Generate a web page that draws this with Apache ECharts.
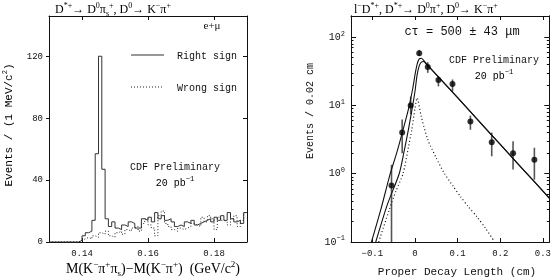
<!DOCTYPE html>
<html><head><meta charset="utf-8">
<script src="https://cdn.jsdelivr.net/npm/echarts@6/dist/echarts.min.js"></script>
<style>html,body{margin:0;padding:0;background:#fff}#c{width:554px;height:278px}</style>
</head><body><div id="c"></div>
<script>
// ---------- Left panel: histogram (1 MeV bins starting at 0.130) ----------
const binLow = 0.130;
const binWidth = 0.001;
const rightSign = [0,0,0,0,0,0,0,0,0,1,4,6,7,14,57,120,47,15,10,13,9,8,11,10,13,12,9,9,15,14,16,13,19,15,17,14,15,13,10,11,10,13,12,14,11,12,13,14,15,13,16,14,17,14,19,15,13,14,12,19];
const wrongSign = [0,0,0,0,0,0,0,0,0,1,2,3,2,4,3,6,5,7,4,3,6,7,5,8,7,9,10,7,12,15,11,9,4,17,20,12,10,8,7,9,8,9,10,12,11,10,16,13,17,15,8,16,14,13,11,15,17,10,14,19];
const leftXTicks = [0.14, 0.16, 0.18];
const leftYTicks = [0, 40, 80, 120];
const legendNames = ['Right sign', 'Wrong sign'];

// ---------- Right panel: proper decay length ----------
const ptX  = [-0.055,-0.03,-0.01,0.01,0.03,0.055,0.088,0.13,0.18,0.23,0.28];
const ptY  = [0.67,4.0,10,58,36.6,23.5,20.6,5.8,2.9,2.0,1.6];
const ptLo = [0.1,2.0,7.4,53,30,19,16,4.4,1.8,1.15,0.82];
const ptHi = [1.35,6.2,13.5,65,43,27,24,7.1,4.0,3.0,2.4];

const fitUpX = [-0.102,-0.08,-0.058,-0.043,-0.028,-0.015,-0.005,0,0.005,0.01,0.015,0.02,0.03,0.05,0.1,0.15,0.2,0.25,0.315];
const fitUpY = [0.1,0.3,1.0,2.0,4.4,9,18,28,40,48,49,46,39,28.3,13,5.9,2.68,1.22,0.44];
const fitLoX = [-0.092,-0.065,-0.037,-0.025,-0.0155,-0.008,0,0.005,0.01,0.015,0.02,0.03,0.04,0.05,0.1,0.15,0.2,0.25,0.315];
const fitLoY = [0.1,0.35,1.0,2.2,4.4,8,16,28,38,43,44,38,33,28.3,13,5.9,2.68,1.22,0.44];
const bkgX = [-0.085,-0.06,-0.045,-0.028,-0.015,-0.0075,0,0.005,0.0145,0.03,0.05,0.0685,0.09,0.107,0.125,0.145,0.165,0.184];
const bkgY = [0.1,0.3,0.55,1.0,2.5,4.4,9,12.9,7.0,3.16,1.7,1.02,0.65,0.46,0.33,0.235,0.16,0.107];
const rightXTicks = [-0.1, 0, 0.1, 0.2, 0.3];
const rightYTicks = [0.1, 1, 10, 100];
const rightYMinor = [0.2,0.3,0.4,0.5,0.6,0.7,0.8,0.9,2,3,4,5,6,7,8,9,20,30,40,50,60,70,80,90,200];

const LM = 'Liberation Mono', LS = 'Liberation Serif';
const INK = '#111';

function histPoints(counts){
  const pts = counts.map((v,i)=>[binLow + i*binWidth, v]);
  pts.push([binLow + counts.length*binWidth, counts[counts.length-1]]);
  return pts;
}
const zip = (a,b)=>a.map((v,i)=>[v,b[i]]);

const richSerif = {
  n:{fontFamily:LS,fontSize:12,lineHeight:16,verticalAlign:'middle',color:INK},
  p:{fontFamily:LS,fontSize:8,lineHeight:10,verticalAlign:'top',color:INK},
  b:{fontFamily:LS,fontSize:8,lineHeight:8,verticalAlign:'bottom',color:INK}
};
const richSerifBig = {
  n:{fontFamily:LS,fontSize:14,lineHeight:18,verticalAlign:'middle',color:INK},
  p:{fontFamily:LS,fontSize:9,lineHeight:11,verticalAlign:'top',color:INK},
  b:{fontFamily:LS,fontSize:9,lineHeight:9,verticalAlign:'bottom',color:INK}
};
const richMono = {
  m:{fontFamily:LM,fontSize:10,lineHeight:14,verticalAlign:'middle',color:INK},
  q:{fontFamily:LM,fontSize:7,lineHeight:8,verticalAlign:'top',color:INK}
};
const AXL = {show:true, onZero:false, lineStyle:{color:INK, width:1}};

function hiddenAxisBase(){
  return {axisLabel:{show:false}, splitLine:{show:false}, axisLine:AXL};
}

const chart = echarts.init(document.getElementById('c'), null, {renderer:'canvas'});
const minus = s => String(s).replace('-', '\u2212');

chart.setOption({
  animation:false,
  backgroundColor:'#fff',
  grid:[
    {left:49, top:16, width:198, height:226},
    {left:351, top:16, width:202, height:226}
  ],
  xAxis:[
    {type:'value', gridIndex:0, min:0.13, max:0.19, position:'bottom',
     axisLine:AXL, splitLine:{show:false},
     axisTick:{inside:true, length:4, customValues:leftXTicks, lineStyle:{color:INK}},
     axisLabel:{customValues:leftXTicks, formatter:v=>v.toFixed(2), fontFamily:LM, fontSize:9, color:INK, margin:7}},
    Object.assign(hiddenAxisBase(), {type:'value', gridIndex:0, min:0.13, max:0.19, position:'top',
     axisTick:{inside:true, length:4, customValues:leftXTicks, lineStyle:{color:INK}}}),
    {type:'value', gridIndex:1, min:-0.15, max:0.315, position:'bottom',
     axisLine:AXL, splitLine:{show:false},
     axisTick:{inside:true, length:4, customValues:rightXTicks, lineStyle:{color:INK}},
     axisLabel:{customValues:rightXTicks, formatter:v=>minus(v), fontFamily:LM, fontSize:9, color:INK, margin:7}},
    Object.assign(hiddenAxisBase(), {type:'value', gridIndex:1, min:-0.15, max:0.315, position:'top',
     axisTick:{inside:true, length:4, customValues:rightXTicks, lineStyle:{color:INK}}})
  ],
  yAxis:[
    {type:'value', gridIndex:0, min:0, max:146, position:'left',
     axisLine:AXL, splitLine:{show:false},
     axisTick:{show:true, inside:false, length:3, customValues:leftYTicks, lineStyle:{color:INK}},
     axisLabel:{customValues:leftYTicks, fontFamily:LM, fontSize:9, color:INK, margin:6}},
    Object.assign(hiddenAxisBase(), {type:'value', gridIndex:0, min:0, max:146, position:'right',
     axisTick:{show:true, inside:true, length:4, customValues:leftYTicks, lineStyle:{color:INK}}}),
    {type:'log', gridIndex:1, min:0.1, max:204, position:'left', logBase:10,
     axisLine:AXL, splitLine:{show:false},
     axisTick:{show:true, inside:true, length:5, customValues:rightYTicks, lineStyle:{color:INK}},
     axisLabel:{customValues:rightYTicks, margin:6,
       formatter:v=>'{m|10}{q|' + minus(Math.round(Math.log10(v))) + '}', rich:richMono}},
    Object.assign(hiddenAxisBase(), {type:'log', gridIndex:1, min:0.1, max:204, position:'right', logBase:10,
     axisTick:{show:true, inside:true, length:5, customValues:rightYTicks, lineStyle:{color:INK}}}),
    Object.assign(hiddenAxisBase(), {type:'log', gridIndex:1, min:0.1, max:204, position:'left', logBase:10,
     axisTick:{show:true, inside:true, length:2.5, customValues:rightYMinor, lineStyle:{color:INK}}}),
    Object.assign(hiddenAxisBase(), {type:'log', gridIndex:1, min:0.1, max:204, position:'right', logBase:10,
     axisTick:{show:true, inside:true, length:2.5, customValues:rightYMinor, lineStyle:{color:INK}}})
  ],
  series:[
    {name:legendNames[0], type:'line', xAxisIndex:0, yAxisIndex:0, step:'end', symbol:'none',
     lineStyle:{color:'#333', width:1}, data:histPoints(rightSign)},
    {name:legendNames[1], type:'line', xAxisIndex:0, yAxisIndex:0, step:'end', symbol:'none',
     lineStyle:{color:'#222', width:1, type:[1,2]}, data:histPoints(wrongSign)},
    {type:'line', xAxisIndex:2, yAxisIndex:2, symbol:'none', smooth:0.25,
     lineStyle:{color:INK, width:1.1}, data:zip(fitUpX, fitUpY)},
    {type:'line', xAxisIndex:2, yAxisIndex:2, symbol:'none', smooth:0.25,
     lineStyle:{color:INK, width:1.1}, data:zip(fitLoX, fitLoY)},
    {type:'line', xAxisIndex:2, yAxisIndex:2, symbol:'none', smooth:0.25,
     lineStyle:{color:INK, width:1.2, type:[1,2.5]}, data:zip(bkgX, bkgY)},
    {type:'custom', xAxisIndex:2, yAxisIndex:2, clip:true,
     data:ptX.map((x,i)=>[x, ptY[i], ptLo[i], ptHi[i]]),
     encode:{x:0, y:1},
     renderItem:function(params, api){
       const a = api.coord([api.value(0), api.value(2)]);
       const b = api.coord([api.value(0), api.value(3)]);
       return {type:'line', shape:{x1:a[0], y1:a[1], x2:b[0], y2:b[1]},
               style:{stroke:'#555', lineWidth:1.6}};
     }},
    {type:'scatter', xAxisIndex:2, yAxisIndex:2, symbol:'circle', symbolSize:6,
     itemStyle:{color:'#000'}, data:zip(ptX, ptY), z:5}
  ],
  graphic:[
    {type:'line', shape:{x1:131, y1:55, x2:164, y2:55}, style:{stroke:'#333', lineWidth:1}},
    {type:'text', x:177, y:56, style:{text:legendNames[0], font:'10px "Liberation Mono"', fill:INK, verticalAlign:'middle'}},
    {type:'line', shape:{x1:131, y1:87, x2:162, y2:87}, style:{stroke:'#222', lineWidth:1, lineDash:[1,2]}},
    {type:'text', x:177, y:88, style:{text:legendNames[1], font:'10px "Liberation Mono"', fill:INK, verticalAlign:'middle'}},
    {type:'text', x:55, y:2, style:{text:'{n|D}{p|*+}{n|→ D}{p|0}{n|π}{b|s}{p|+}{n|, D}{p|0}{n|→ K}{p|−}{n|π}{p|+}', rich:richSerif}},
    {type:'text', x:212, y:26, style:{text:'e+μ', font:'11px "Liberation Serif"', fill:INK, align:'center', verticalAlign:'middle'}},
    {type:'text', x:175, y:167, style:{text:'CDF Preliminary', font:'10px "Liberation Mono"', fill:INK, align:'center', verticalAlign:'middle'}},
    {type:'text', x:175, y:183, style:{text:'{m|20 pb}{q|−1}', rich:richMono, align:'center', verticalAlign:'middle'}},
    {type:'text', x:9, y:125, rotation:Math.PI/2, style:{text:'{m|Events / (1 MeV/c}{q|2}{m|)}', rich:{
      m:{fontFamily:LM,fontSize:11,lineHeight:14,verticalAlign:'middle',color:INK},
      q:{fontFamily:LM,fontSize:7,lineHeight:8,verticalAlign:'top',color:INK}}, align:'center', verticalAlign:'middle'}},
    {type:'text', x:153, y:269, style:{text:'{n|M(K}{p|−}{n|π}{p|+}{n|π}{b|s}{n|)−M(K}{p|−}{n|π}{p|+}{n|)  (GeV/c}{p|2}{n|)}', rich:richSerifBig, align:'center', verticalAlign:'middle'}},
    {type:'text', x:354, y:2, style:{text:'{n|l}{p|−}{n|D}{p|*+}{n|, D}{p|*+}{n|→ D}{p|0}{n|π}{p|+}{n|, D}{p|0}{n|→ K}{p|−}{n|π}{p|+}', rich:richSerif}},
    {type:'text', x:462, y:32, style:{text:'cτ = 500 ± 43 μm', font:'12px "Liberation Mono"', fill:INK, align:'center', verticalAlign:'middle'}},
    {type:'text', x:494, y:60, style:{text:'CDF Preliminary', font:'10px "Liberation Mono"', fill:INK, align:'center', verticalAlign:'middle'}},
    {type:'text', x:494, y:76, style:{text:'{m|20 pb}{q|−1}', rich:richMono, align:'center', verticalAlign:'middle'}},
    {type:'text', x:310, y:111, rotation:Math.PI/2, style:{text:'Events / 0.02 cm', font:'10px "Liberation Mono"', fill:INK, align:'center', verticalAlign:'middle'}},
    {type:'text', x:457, y:272, style:{text:'Proper Decay Length (cm)', font:'11px "Liberation Mono"', fill:INK, align:'center', verticalAlign:'middle'}}
  ]
});
</script></body></html>
